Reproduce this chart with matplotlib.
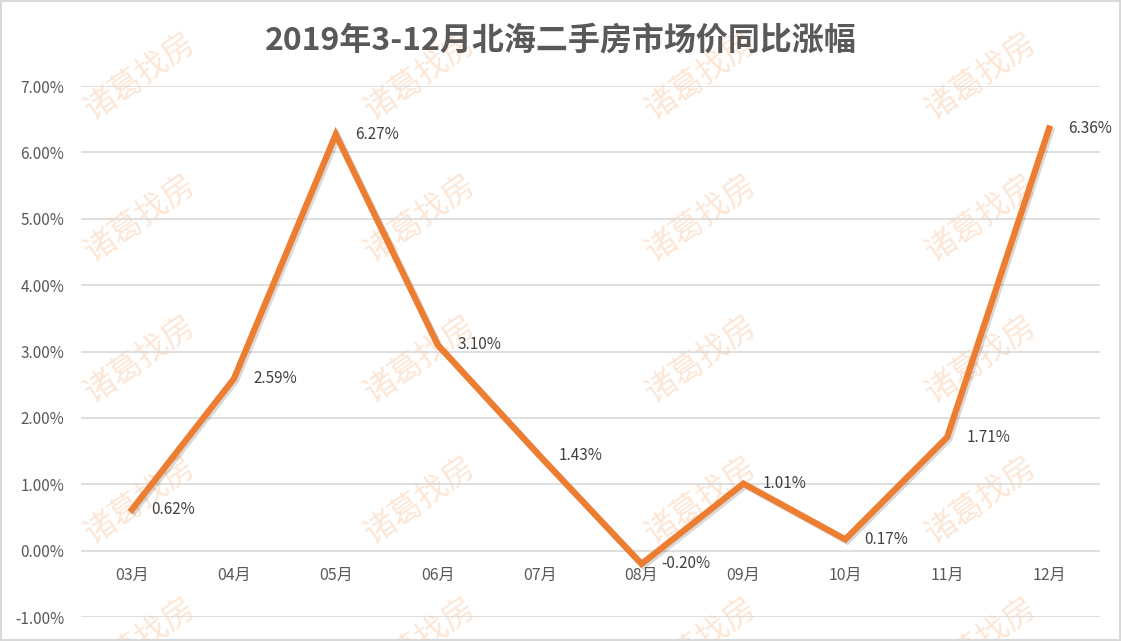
import matplotlib
matplotlib.use("Agg")
import matplotlib.pyplot as plt
import matplotlib.patheffects as pe
from matplotlib.patches import Rectangle

plt.rcParams['font.family'] = ['Noto Sans CJK SC', 'DejaVu Sans']

months = ["03月", "04月", "05月", "06月", "07月", "08月", "09月", "10月", "11月", "12月"]
values = [0.62, 2.59, 6.27, 3.10, 1.43, -0.20, 1.01, 0.17, 1.71, 6.36]
yticks = [-1, 0, 1, 2, 3, 4, 5, 6, 7]
title = "2019年3-12月北海二手房市场价同比涨幅"
watermark = "诸葛找房"

fig = plt.figure(figsize=(11.21, 6.41), dpi=100)
ax = fig.add_axes([0.0723, 0.0374, 0.909, 0.8284])

# watermark grid, behind the axes
for wy in [0.88, 0.66, 0.44, 0.22, 0.0]:
    for wx in [0.125, 0.375, 0.625, 0.875]:
        fig.text(wx, wy, watermark, fontsize=23, color="#FCE4D2", rotation=35,
                 ha="center", va="center", alpha=0.9, zorder=-1)

x = list(range(len(months)))
ax.plot(x, values, color="#ED7D31", lw=4.5, solid_joinstyle="miter", zorder=3,
        path_effects=[pe.SimpleLineShadow(offset=(1.5, -1.5), shadow_color="#000000", alpha=0.15),
                      pe.Normal()])

for xi, v in zip(x, values):
    ax.annotate(f"{v:.2f}%", (xi, v), xytext=(14, 0), textcoords="offset points",
                ha="left", va="center", fontsize=11, color="#404040", zorder=4)

for xi, m in zip(x, months):
    ax.annotate(m, (xi, 0), xytext=(0, -18), textcoords="offset points",
                ha="center", va="center", fontsize=11.5, color="#595959")

ax.set_xlim(-0.5, len(months) - 0.5)
ax.set_ylim(-1, 7)
ax.set_yticks(yticks)
ax.set_yticklabels([f"{t:.2f}%" for t in yticks], fontsize=11, color="#595959")
ax.set_xticks([])
ax.tick_params(axis="y", length=0, pad=12)
ax.grid(axis="y", color="#D9D9D9", lw=1.2)
ax.set_axisbelow(True)
for s in ax.spines.values():
    s.set_visible(False)
ax.patch.set_alpha(0)

fig.text(0.5, 0.937, title, ha="center", va="center", fontsize=23, fontweight="bold", color="#595959")

fig.patches.append(Rectangle((0.001, 0.001), 0.998, 0.997, transform=fig.transFigure,
                             fill=False, edgecolor="#D9D9D9", lw=1.5))

fig.savefig("out.png", dpi=100)
